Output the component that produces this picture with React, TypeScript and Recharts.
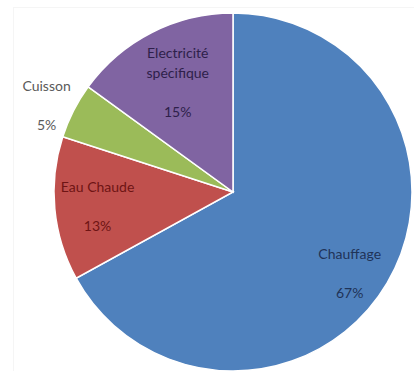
import React from 'react';
import { PieChart, Pie, Cell } from 'recharts';

const usages = ['Chauffage', 'Eau Chaude', 'Cuisson', 'Electricité spécifique'];
const shares = [67, 13, 5, 15];
const sliceColors = ['#4F81BD', '#C0504D', '#9BBB59', '#8064A2'];
const labelColors = ['#1F3358', '#6E1414', '#5A5A5A', '#2E1F4A'];
// label placement: distance from the centre (fraction of radius) plus a small nudge in px
const labelRadius = [0.79, 0.76, 1.15, 0.68];
const labelNudge = [
  [-5, 9],
  [0, 1],
  [-3, 6],
  [0, -2],
];

const data = usages.map((name, i) => ({ name, value: shares[i] }));

const RADIAN = Math.PI / 180;

const renderLabel = (props: any) => {
  const { cx, cy, midAngle, outerRadius, index, name, value } = props;
  const r = outerRadius * labelRadius[index];
  const x = cx + r * Math.cos(-midAngle * RADIAN) + labelNudge[index][0];
  const y = cy + r * Math.sin(-midAngle * RADIAN) + labelNudge[index][1];
  const words = name === 'Electricité spécifique' ? ['Electricité', 'spécifique'] : [name];
  const lines = [...words, '', `${value}%`];
  const lh = 19.5;
  const top = y - ((lines.length - 1) * lh) / 2;
  return (
    <text
      x={x}
      y={top}
      fill={labelColors[index]}
      fontSize={14}
      fontFamily="Lato, 'Open Sans', sans-serif"
      textAnchor="middle"
      dominantBaseline="central"
    >
      {lines.map((t, k) => (
        <tspan key={k} x={x} y={top + k * lh}>
          {t}
        </tspan>
      ))}
    </text>
  );
};

export default function App() {
  return (
    <div style={{ position: 'fixed', left: 0, top: 0, width: 414, height: 371, background: '#fff' }}>
      <div
        style={{
          position: 'absolute',
          left: 13,
          top: 7,
          width: 401,
          height: 364,
          borderLeft: '1px solid #f5f5f5',
          borderTop: '1px solid #f5f5f5',
        }}
      />
      <PieChart width={414} height={371} margin={{ top: 0, right: 0, bottom: 0, left: 0 }}>
        <Pie
          data={data}
          dataKey="value"
          nameKey="name"
          cx={233}
          cy={192}
          outerRadius={179}
          startAngle={90}
          endAngle={-270}
          stroke="#ffffff"
          strokeWidth={1.5}
          label={renderLabel}
          labelLine={false}
          isAnimationActive={false}
        >
          {data.map((d, i) => (
            <Cell key={d.name} fill={sliceColors[i]} />
          ))}
        </Pie>
      </PieChart>
    </div>
  );
}
